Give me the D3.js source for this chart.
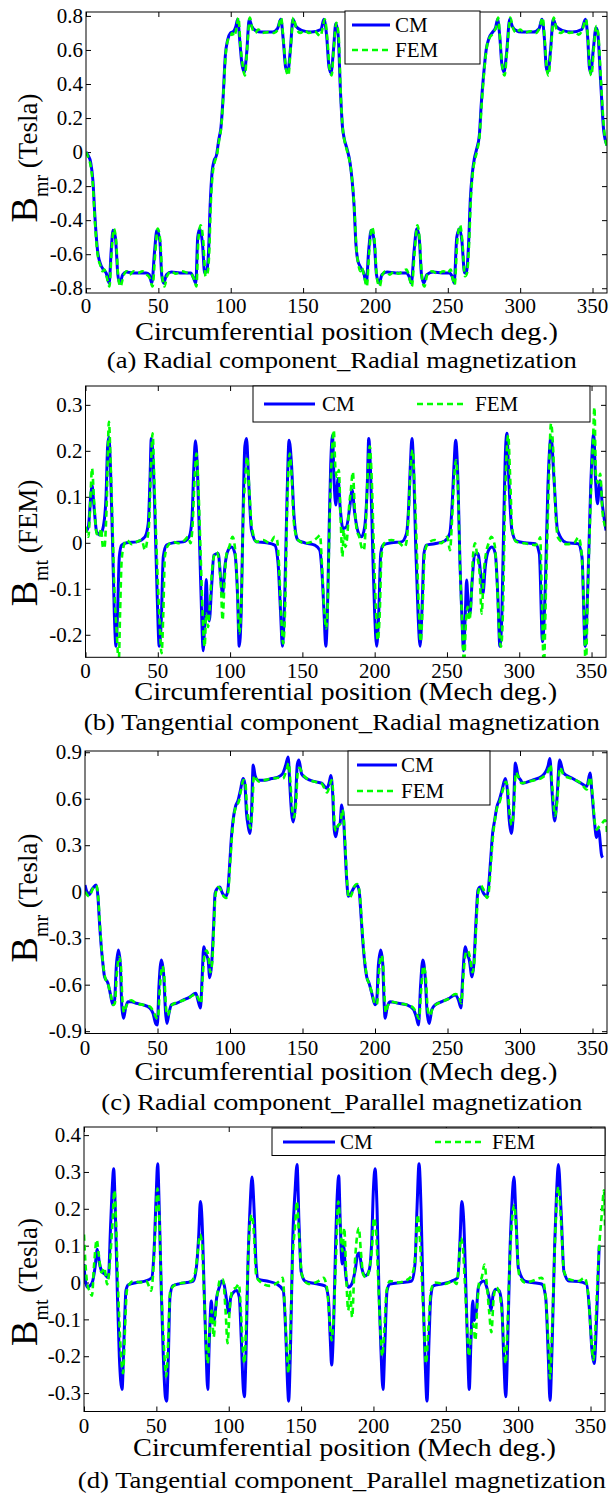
<!DOCTYPE html>
<html><head><meta charset="utf-8">
<script src="https://cdn.jsdelivr.net/npm/d3@7"></script>
<style>
body{margin:0;background:#fff;}
svg text{font-family:"Liberation Serif","Times New Roman",Times,serif;fill:#000;}
</style>
</head><body>
<svg id="chart" width="609" height="1494"></svg>
<script>
// ---------------- DATA ----------------
const xTicks = [0, 50, 100, 150, 200, 250, 300, 350];
const xTitle = "Circumferential position (Mech deg.)";
const seriesNames = ["CM", "FEM"];

const aYTicks = [-0.8, -0.6, -0.4, -0.2, 0, 0.2, 0.4, 0.6, 0.8];
const bYTicks = [-0.2, -0.1, 0, 0.1, 0.2, 0.3];
const cYTicks = [-0.9, -0.6, -0.3, 0, 0.3, 0.6, 0.9];
const dYTicks = [-0.3, -0.2, -0.1, 0, 0.1, 0.2, 0.3, 0.4];

const yLabels = [["B", "mr", " (Tesla)"], ["B", "mt", " (FEM)"], ["B", "mr", " (Tesla)"], ["B", "mt", " (Tesla)"]];
const captions = ["(a) Radial component_Radial magnetization", "(b) Tangential component_Radial magnetization",
  "(c) Radial component_Parallel magnetization", "(d) Tangential component_Parallel magnetization"];

const aCM = [[0,0.00],[1.5,-0.02],[3.2,-0.06],[4.8,-0.17],[6.1,-0.37],[8,-0.58],[10.1,-0.66],[12,-0.69],[13.9,-0.71],[16,-0.77],[17.4,-0.58],[18.7,-0.46],[20.3,-0.5],[22,-0.72],[23.3,-0.77],[25.4,-0.72],[28,-0.705],[32,-0.71],[38,-0.71],[41.5,-0.71],[43.7,-0.72],[45.5,-0.77],[47.4,-0.58],[49,-0.46],[51,-0.52],[52.3,-0.72],[53.6,-0.77],[55.7,-0.72],[59,-0.705],[65,-0.71],[72.4,-0.71],[74.3,-0.74],[75.9,-0.77],[77.2,-0.5],[78.6,-0.45],[80.5,-0.54],[82,-0.71],[83.4,-0.70],[84.7,-0.58],[85.8,-0.31],[87.1,-0.12],[88.5,-0.05],[90.1,-0.02],[91.7,0.07],[93.3,0.15],[94.8,0.33],[96.2,0.56],[97.9,0.66],[99.8,0.70],[102,0.71],[103.6,0.74],[104.8,0.78],[106.2,0.66],[107.7,0.52],[109.4,0.47],[111,0.58],[112.8,0.78],[114.5,0.74],[117,0.715],[121,0.705],[129,0.705],[132.3,0.725],[134.6,0.78],[136.3,0.66],[137.9,0.5],[139.4,0.47],[141.2,0.6],[143,0.78],[145,0.74],[149,0.715],[155.6,0.705],[162.3,0.72],[164.4,0.78],[166.3,0.68],[167.9,0.5],[169.3,0.466],[171,0.6],[172.6,0.755],[174.2,0.69],[175.8,0.36],[177.2,0.15],[178.4,0.08],[180.3,0.02],[182.4,-0.06],[183.8,-0.16],[185.2,-0.31],[186.5,-0.54],[187.9,-0.64],[190,-0.68],[191.9,-0.71],[193.7,-0.77],[195.3,-0.58],[197.1,-0.46],[199.1,-0.52],[200.7,-0.72],[202.6,-0.77],[204.5,-0.72],[208,-0.705],[214,-0.71],[221.3,-0.71],[223.2,-0.73],[224.8,-0.77],[226.7,-0.58],[228.6,-0.45],[230.2,-0.5],[231.8,-0.72],[233.4,-0.77],[235.5,-0.72],[240,-0.705],[246,-0.71],[250.9,-0.71],[253,-0.73],[254.4,-0.77],[256.2,-0.5],[258.1,-0.45],[259.7,-0.52],[261.6,-0.71],[263,-0.70],[264.3,-0.55],[265.6,-0.27],[267,-0.12],[268.3,-0.04],[270,0.02],[271.8,0.1],[273.1,0.28],[274.7,0.45],[276.5,0.6],[278.5,0.67],[281,0.705],[283,0.73],[284.4,0.78],[285.9,0.68],[287.3,0.52],[288.8,0.47],[290.6,0.58],[292.8,0.78],[294.5,0.74],[297,0.715],[301,0.705],[309,0.705],[313,0.725],[315.1,0.78],[316.8,0.66],[318,0.5],[319.2,0.47],[321,0.6],[322.8,0.78],[324.8,0.74],[329,0.715],[336,0.705],[342.5,0.72],[345.1,0.78],[346.6,0.68],[347.8,0.5],[348.8,0.465],[350.5,0.6],[352.4,0.73],[353.6,0.70],[355.5,0.43],[357.8,0.12],[360,0.04]];

const aFEM = [[0,0.0],[1.5,-0.03],[3.2,-0.08],[4.8,-0.2],[6.1,-0.4],[8,-0.6],[10.1,-0.67],[11.5,-0.7],[12.8,-0.69],[14.2,-0.73],[16.2,-0.79],[17.6,-0.6],[19.2,-0.45],[20.8,-0.52],[22.3,-0.74],[23.8,-0.79],[25.8,-0.73],[28,-0.70],[30,-0.72],[33,-0.70],[36,-0.71],[39,-0.70],[42,-0.72],[44,-0.74],[46,-0.79],[47.8,-0.6],[49.5,-0.45],[51.3,-0.52],[52.8,-0.74],[54.2,-0.79],[56,-0.73],[59,-0.70],[62,-0.715],[66,-0.70],[70,-0.71],[73,-0.72],[74.8,-0.75],[76.3,-0.79],[77.6,-0.52],[79.2,-0.43],[81,-0.52],[82.6,-0.73],[84,-0.71],[85.2,-0.58],[86.2,-0.31],[87.5,-0.13],[88.9,-0.06],[90.4,-0.02],[92,0.07],[93.6,0.16],[95,0.35],[96.5,0.57],[98.2,0.66],[99.5,0.67],[101,0.70],[102.4,0.68],[104,0.73],[105.3,0.79],[106.8,0.62],[108.4,0.5],[109.8,0.45],[111.3,0.6],[113.2,0.79],[114.8,0.73],[117,0.70],[119,0.72],[122,0.70],[126,0.705],[130,0.70],[132.5,0.72],[134.8,0.79],[136.6,0.64],[138.2,0.49],[139.8,0.45],[141.5,0.62],[143.3,0.79],[145.2,0.73],[148,0.70],[151,0.715],[154,0.70],[158,0.71],[160.5,0.69],[162,0.68],[163.3,0.72],[165,0.78],[166.8,0.66],[168.3,0.49],[169.7,0.45],[171.3,0.62],[173,0.76],[174.6,0.68],[176,0.34],[177.5,0.13],[178.8,0.06],[180.6,0.0],[182.7,-0.08],[184.1,-0.18],[185.5,-0.34],[186.8,-0.56],[188.2,-0.66],[189.5,-0.70],[190.6,-0.68],[192.2,-0.73],[194,-0.79],[195.6,-0.6],[197.5,-0.44],[199.4,-0.52],[201,-0.74],[202.9,-0.79],[204.8,-0.72],[207,-0.70],[210,-0.72],[213,-0.70],[216,-0.715],[219,-0.70],[221.5,-0.69],[223.5,-0.74],[225.1,-0.79],[227,-0.6],[229,-0.43],[230.6,-0.52],[232.2,-0.74],[233.8,-0.79],[235.8,-0.72],[239,-0.70],[243,-0.715],[247,-0.70],[250,-0.71],[252,-0.69],[253.3,-0.74],[254.7,-0.78],[256.6,-0.52],[258.5,-0.43],[260,-0.52],[261.9,-0.73],[263.3,-0.71],[264.6,-0.56],[265.9,-0.28],[267.3,-0.12],[268.6,-0.05],[270.3,0.01],[272,0.1],[273.4,0.28],[275,0.46],[276.8,0.61],[278.8,0.67],[280.6,0.69],[282,0.71],[283.3,0.73],[284.8,0.79],[286.3,0.64],[287.7,0.5],[289.2,0.45],[291,0.6],[293.2,0.79],[295,0.73],[297.5,0.70],[300,0.72],[303,0.70],[307,0.71],[311,0.70],[313.4,0.73],[315.5,0.79],[317.2,0.63],[318.4,0.49],[319.6,0.45],[321.4,0.62],[323.2,0.79],[325.2,0.72],[328,0.70],[331,0.715],[334,0.70],[338,0.705],[340.5,0.69],[343,0.72],[345.5,0.78],[347,0.65],[348.2,0.49],[349.2,0.45],[351,0.62],[352.6,0.74],[354,0.69],[355.8,0.42],[358,0.13],[360,0.03]];

const bCM = [[0.3,0.024],[2,0.035],[3.6,0.10],[4.5,0.125],[5.9,0.078],[7.7,0.024],[10,0.017],[12.3,0.035],[14.2,0.1],[15.3,0.21],[16.2,0.23],[17.4,0.15],[18.8,-0.009],[19.9,-0.15],[21.1,-0.225],[22.2,-0.15],[23.4,-0.03],[25,-0.005],[28.5,0],[35.4,0.002],[41.1,0.013],[43.4,0.042],[44.6,0.136],[45.5,0.227],[46.9,0.17],[48.2,0.04],[49.6,-0.117],[51,-0.225],[52.4,-0.17],[53.8,-0.03],[56.1,-0.005],[60.7,0],[67.6,0.002],[71.7,0.013],[73.6,0.05],[75,0.17],[76.1,0.222],[77.5,0.15],[79.1,-0.023],[80.3,-0.154],[81.4,-0.235],[82.6,-0.154],[83.5,-0.08],[84.4,-0.14],[85.6,-0.17],[87.2,-0.096],[88.8,-0.027],[91.8,-0.023],[93.4,-0.074],[94.8,-0.11],[96.4,-0.052],[98.7,-0.016],[101,-0.009],[103.3,-0.023],[105.2,-0.117],[106.3,-0.225],[107.7,-0.15],[109,0.064],[110.2,0.21],[111.4,0.227],[112.8,0.136],[114.8,0.028],[118.3,0.002],[125.2,0],[130.9,-0.005],[133.2,-0.045],[134.9,-0.15],[136.2,-0.225],[137.8,-0.117],[139.4,0.1],[140.8,0.223],[142.5,0.17],[144.1,0.064],[145.9,0.013],[147,0.006],[151.7,0],[158.6,-0.005],[162,-0.016],[163.6,-0.067],[165,-0.154],[166.2,-0.225],[167.3,-0.154],[168.5,0.028],[169.6,0.17],[170.8,0.234],[171.9,0.136],[173.1,0.082],[174.7,0.14],[176.1,0.078],[178.1,0.031],[180.5,0.035],[182.8,0.078],[184.4,0.115],[186.2,0.064],[188.5,0.024],[190.9,0.013],[193.1,0.035],[195,0.136],[195.9,0.227],[197.3,0.14],[198.7,-0.023],[200,-0.154],[201.4,-0.225],[202.8,-0.154],[204.2,-0.023],[205.8,-0.005],[211.6,0],[218.5,0.002],[222,0.02],[223.5,0.078],[224.7,0.17],[225.8,0.227],[227.2,0.136],[228.4,-0.009],[230,-0.154],[231.4,-0.225],[232.8,-0.14],[234.1,-0.023],[235.8,-0.005],[241.5,-0.002],[248.4,0.004],[251.9,0.02],[253.5,0.078],[254.9,0.17],[256,0.223],[257.6,0.136],[259,-0.045],[260.4,-0.168],[261.5,-0.235],[262.7,-0.154],[263.6,-0.081],[264.8,-0.14],[265.9,-0.154],[267.3,-0.089],[269.1,-0.027],[271.4,-0.023],[273.3,-0.067],[274.9,-0.11],[276.5,-0.052],[278.8,-0.016],[281.1,-0.009],[283.4,-0.023],[285.2,-0.117],[286.6,-0.225],[288,-0.154],[289.4,0.064],[290.6,0.209],[291.5,0.238],[292.8,0.136],[294.9,0.028],[297.9,0.004],[303.7,0],[311.2,-0.002],[313.9,-0.024],[316.1,-0.215],[318,-0.097],[319.8,0.12],[322,0.23],[324.1,0.135],[326.5,0.027],[332.7,0],[340.7,-0.002],[343.4,-0.031],[345.6,-0.225],[347.4,-0.097],[349.4,0.12],[351.5,0.237],[352.8,0.135],[354.1,0.085],[355.8,0.135],[357.4,0.085],[360,0.027]];

const bFEM = [[0,0.035],[2,0.013],[3.2,0.078],[4.5,0.162],[5.9,0.093],[7.7,0.02],[9.6,0.013],[10.8,0.031],[12,-0.009],[13,-0.012],[14.6,0.078],[16.2,0.263],[17.4,0.17],[18.8,0.028],[19.9,-0.096],[21.5,-0.19],[23,-0.26],[23.9,-0.154],[25,-0.038],[26.6,-0.005],[28.5,0.006],[32,-0.003],[35.4,0.002],[38.9,0.006],[41.1,-0.016],[42.7,0.006],[44.1,0.049],[45.3,0.17],[46.4,0.238],[47.6,0.136],[49.1,-0.009],[51,-0.154],[52.6,-0.24],[53.8,-0.154],[54.9,-0.03],[57.2,-0.005],[60.7,0.002],[64.1,-0.001],[68.7,0.006],[71,0.013],[72.6,-0.001],[74,0.035],[75.6,0.15],[76.8,0.194],[77.9,0.136],[79.6,-0.023],[81,-0.154],[82.4,-0.226],[83.5,-0.154],[84.7,-0.183],[85.8,-0.146],[87,-0.081],[88.8,-0.03],[90.7,-0.02],[92.3,-0.038],[93.7,-0.096],[94.8,-0.168],[96.2,-0.081],[97.6,-0.023],[99.4,-0.009],[101.7,0.013],[103.3,-0.009],[105.2,-0.110],[106.3,-0.197],[107.7,-0.139],[109,0.049],[110.4,0.136],[111.8,0.187],[113.2,0.121],[115,0.035],[118.3,0.002],[122.9,0.006],[127.5,-0.001],[130.9,0.013],[132.5,0.006],[133.9,-0.052],[135.3,-0.154],[136.7,-0.219],[138.1,-0.139],[139.5,0.078],[141.3,0.194],[142.6,0.143],[144,0.049],[145.9,0.013],[147,0.006],[151.7,-0.001],[156.3,0.002],[160.9,0.013],[162.2,0.017],[163.6,-0.052],[165,-0.139],[166.4,-0.186],[167.5,-0.139],[168.7,0.028],[170.1,0.17],[171.7,0.245],[172.9,0.158],[174,0.143],[175.2,0.158],[176.5,0.049],[177.7,-0.03],[178.6,0.028],[179.8,-0.009],[181.2,0.02],[182.3,0.078],[183.5,0.114],[184.9,0.154],[186.2,0.078],[187.6,0.028],[189.3,0.013],[190.9,-0.009],[192.5,-0.016],[193.8,0.035],[195.5,0.17],[196.6,0.21],[198,0.136],[199.4,-0.009],[200.8,-0.139],[202.1,-0.212],[203.5,-0.154],[204.7,-0.03],[206.5,-0.001],[211.6,0.006],[216.2,0.002],[220.8,-0.009],[222.2,0.006],[223.5,0.064],[224.9,0.165],[226.3,0.202],[227.7,0.114],[229.1,-0.009],[230.5,-0.139],[231.8,-0.215],[233.2,-0.139],[234.6,-0.023],[236.9,-0.001],[241.5,0.006],[246.1,-0.001],[250.2,0.013],[252.1,-0.016],[253.5,0.049],[254.9,0.136],[256.3,0.18],[257.6,0.121],[259,-0.045],[260.4,-0.168],[261.8,-0.26],[263.2,-0.168],[264.3,-0.139],[265.5,-0.168],[266.9,-0.117],[268,-0.03],[269.4,-0.001],[271,-0.03],[272.6,-0.067],[274,-0.154],[275.4,-0.067],[277,-0.023],[278.8,-0.001],[280.7,0.013],[283,-0.005],[284.8,-0.096],[286.2,-0.197],[287.4,-0.226],[288.8,-0.139],[290.1,0.078],[291.5,0.209],[292.4,0.234],[293.6,0.151],[295.2,0.028],[297.9,0.002],[303.7,-0.001],[311,-0.005],[313,0.0],[314.5,0.012],[315.5,-0.1],[317,-0.27],[318.5,-0.1],[320,0.08],[322,0.26],[323.5,0.2],[325,0.07],[327,0.01],[333,-0.003],[338,0.0],[341,0.012],[343,-0.02],[344.5,-0.12],[346,-0.27],[347.5,-0.1],[349.5,0.1],[351,0.22],[352,0.295],[353,0.15],[354.5,0.13],[356,0.15],[357.5,0.07],[359,0.04],[360,0.03]];

const cCM = [[0,0.043],[1.3,0],[3.1,-0.02],[4.5,0.01],[5.9,0.028],[7.7,0.043],[8.9,-0.03],[10,-0.2],[11.2,-0.355],[12.3,-0.46],[13.5,-0.55],[15.8,-0.59],[17.4,-0.656],[19.2,-0.73],[20.4,-0.70],[21.6,-0.48],[23.1,-0.376],[24.3,-0.46],[25.4,-0.74],[26.6,-0.817],[28,-0.75],[29.6,-0.71],[31.9,-0.71],[35.4,-0.72],[40,-0.73],[44.6,-0.75],[46.9,-0.785],[48.7,-0.85],[49.9,-0.86],[51,-0.61],[52.7,-0.44],[54.2,-0.53],[55.6,-0.785],[56.5,-0.85],[57.9,-0.785],[59.6,-0.73],[63,-0.72],[67.6,-0.70],[72.2,-0.68],[76.4,-0.656],[77.9,-0.70],[79.6,-0.75],[80.7,-0.57],[81.9,-0.355],[83.3,-0.40],[84.9,-0.44],[86,-0.555],[87.4,-0.46],[88.8,-0.2],[89.7,-0.01],[91.1,0.02],[92.9,0.03],[94.8,-0.01],[97.1,-0.03],[98.5,0.01],[99.8,0.18],[101,0.355],[102.1,0.46],[103.8,0.55],[105.6,0.59],[107.2,0.656],[109,0.73],[110.2,0.70],[111.4,0.505],[112.6,0.42],[113.7,0.376],[114.8,0.505],[116,0.817],[117.3,0.75],[119.4,0.72],[124,0.72],[128.7,0.73],[133.2,0.74],[136.2,0.76],[138.5,0.82],[140.1,0.87],[141.3,0.68],[142.5,0.505],[143.6,0.45],[145,0.55],[146.4,0.82],[147.5,0.85],[149.4,0.76],[152.8,0.73],[158.6,0.71],[163.2,0.70],[166.7,0.667],[168.3,0.70],[169.6,0.75],[170.8,0.634],[171.9,0.40],[172.9,0.355],[174.3,0.42],[175.9,0.44],[177,0.56],[178.4,0.46],[179.3,0.29],[180.5,0.075],[181.6,-0.03],[183.5,-0.01],[185.1,0.02],[187.4,0.043],[189,0.01],[190.4,-0.16],[191.5,-0.31],[192.7,-0.44],[194.3,-0.55],[195.9,-0.59],[197.8,-0.656],[200,-0.73],[201.2,-0.70],[202.3,-0.48],[204,-0.376],[205.3,-0.46],[206.3,-0.72],[207,-0.817],[208.3,-0.75],[210.4,-0.71],[216.1,-0.72],[222,-0.73],[226.5,-0.76],[228.4,-0.806],[230,-0.86],[231.4,-0.61],[233,-0.44],[234.6,-0.55],[236,-0.785],[237.4,-0.85],[239.2,-0.76],[241.5,-0.73],[246.1,-0.71],[250.7,-0.69],[255.3,-0.667],[257.6,-0.70],[259.3,-0.75],[260.4,-0.57],[262.2,-0.355],[263.6,-0.40],[265,-0.44],[266.9,-0.55],[268.2,-0.46],[269.6,-0.2],[271,0.01],[272.6,0.03],[274.9,-0.01],[277.2,-0.03],[278.3,0.03],[279.7,0.2],[281.1,0.376],[282.5,0.46],[284.1,0.55],[285.7,0.59],[287.6,0.656],[289.9,0.73],[291.3,0.656],[292.6,0.46],[294,0.376],[295.4,0.505],[296.8,0.83],[298.6,0.75],[300.5,0.72],[301.9,0.70],[308.6,0.72],[315.2,0.745],[319.3,0.81],[320.6,0.86],[322,0.66],[323.9,0.457],[325.5,0.6],[327.3,0.85],[330,0.766],[335.4,0.735],[342.1,0.70],[346.1,0.68],[348.3,0.766],[349.6,0.64],[351.5,0.436],[352.8,0.35],[354.2,0.40],[356.3,0.234],[357,0.22]];

const cFEM = [[0,0.0],[1.5,-0.02],[3,-0.03],[4.5,0.0],[6,0.03],[7.7,0.04],[9,-0.02],[10.2,-0.2],[11.4,-0.36],[12.5,-0.47],[13.8,-0.55],[16,-0.60],[17.6,-0.66],[19.4,-0.73],[20.6,-0.72],[22,-0.52],[23.5,-0.42],[24.7,-0.47],[25.8,-0.70],[27,-0.78],[28.4,-0.74],[30,-0.71],[32,-0.70],[35,-0.72],[40,-0.73],[44.6,-0.74],[47,-0.77],[49,-0.81],[50.3,-0.82],[51.5,-0.64],[53.2,-0.48],[54.6,-0.54],[56,-0.76],[57,-0.80],[58.3,-0.77],[60,-0.73],[63,-0.715],[68,-0.70],[72.5,-0.68],[76.5,-0.66],[78.2,-0.69],[80,-0.72],[81.2,-0.55],[82.4,-0.41],[83.8,-0.38],[85.2,-0.42],[86.4,-0.52],[87.8,-0.45],[89,-0.2],[90,-0.02],[91.5,0.03],[93.2,0.02],[95,-0.02],[97.3,-0.04],[98.8,0.0],[100,0.17],[101.3,0.35],[102.5,0.47],[104,0.55],[106,0.58],[107.5,0.65],[109.3,0.72],[110.5,0.71],[111.8,0.53],[113,0.45],[114.2,0.41],[115.3,0.52],[116.5,0.75],[118,0.73],[120,0.71],[124,0.72],[129,0.73],[133.5,0.735],[136.5,0.73],[138.8,0.78],[140.5,0.83],[141.7,0.70],[142.9,0.53],[144,0.48],[145.4,0.55],[146.8,0.78],[148,0.80],[150,0.76],[153,0.73],[158.5,0.71],[163,0.70],[167,0.64],[168.6,0.68],[170,0.72],[171.2,0.63],[172.2,0.42],[173.3,0.39],[174.7,0.43],[176.2,0.44],[177.4,0.53],[178.7,0.44],[179.6,0.28],[180.8,0.06],[182,-0.04],[183.8,-0.02],[185.4,0.03],[187.7,0.05],[189.3,0.0],[190.7,-0.17],[191.8,-0.32],[193,-0.45],[194.6,-0.56],[196.2,-0.60],[198.1,-0.66],[200.3,-0.73],[201.5,-0.72],[202.7,-0.52],[204.4,-0.41],[205.6,-0.47],[206.7,-0.70],[207.4,-0.78],[208.7,-0.74],[211,-0.71],[216,-0.72],[222,-0.73],[226.5,-0.75],[228.8,-0.79],[230.4,-0.82],[231.8,-0.64],[233.4,-0.48],[235,-0.55],[236.4,-0.76],[237.8,-0.80],[239.5,-0.76],[241.8,-0.73],[246,-0.71],[251,-0.69],[255.5,-0.66],[257.9,-0.68],[259.6,-0.72],[260.8,-0.56],[262.5,-0.40],[264,-0.38],[265.4,-0.42],[267.2,-0.52],[268.5,-0.45],[269.9,-0.2],[271.3,0.0],[272.9,0.04],[275,0.01],[277.4,-0.04],[278.6,0.01],[280,0.19],[281.4,0.36],[282.8,0.47],[284.4,0.55],[286,0.58],[288,0.65],[290.2,0.71],[291.6,0.66],[293,0.49],[294.3,0.43],[295.7,0.52],[297.1,0.77],[298.9,0.74],[301,0.70],[305,0.71],[310,0.72],[315,0.735],[319.5,0.78],[321,0.82],[322.4,0.66],[324.2,0.49],[325.8,0.6],[327.5,0.80],[330.3,0.75],[335.5,0.73],[342,0.70],[346,0.66],[348.5,0.74],[349.9,0.64],[351.8,0.43],[353,0.40],[354.5,0.42],[356.5,0.44],[358.5,0.46],[359.5,0.45],[360,0.36]];

const dCM = [[0,0.05],[0.7,0.013],[2.3,-0.013],[4.1,-0.009],[6,0.004],[7.6,0.04],[9.2,0.09],[10.6,0.054],[12.2,0.031],[14.5,0.022],[16.8,0.013],[18.4,0.157],[19.6,0.264],[20.5,0.309],[21.6,0.2],[23,-0.022],[24.4,-0.2],[26.3,-0.29],[27.6,-0.157],[29,-0.022],[30.6,-0.006],[36.4,0],[42.2,0.004],[46.8,0.013],[48.4,0.085],[49.8,0.228],[50.9,0.322],[52,0.2],[53.4,-0.022],[54.8,-0.2],[56.2,-0.31],[57.1,-0.322],[58.3,-0.2],[59.4,-0.04],[61.3,-0.009],[66.3,-0.003],[71,0],[75.5,0.004],[77.9,0.05],[79.3,0.13],[80.4,0.22],[81.5,0.175],[82.9,-0.004],[84.3,-0.18],[85.5,-0.29],[86.6,-0.157],[88,-0.05],[89.1,-0.11],[90.3,-0.094],[91.7,-0.04],[93.5,-0.013],[95.2,0.004],[96.7,-0.004],[98.6,-0.05],[100,-0.085],[101.4,-0.04],[103.2,-0.027],[105.5,-0.022],[107.3,-0.04],[108.7,-0.157],[110.1,-0.29],[110.8,-0.31],[111.9,-0.2],[113.1,0.022],[114.7,0.2],[116.1,0.286],[117.5,0.2],[118.9,0.05],[120.4,0.009],[126.3,0.004],[133.2,-0.004],[137.7,-0.022],[139.6,-0.157],[140.8,-0.29],[141.4,-0.322],[142.8,-0.157],[144.2,0.112],[145.8,0.246],[147.2,0.32],[148.6,0.157],[150,0.031],[152.7,0.004],[159.6,-0.003],[166.5,-0.009],[168.8,-0.04],[170.2,-0.157],[171.1,-0.224],[172.5,-0.112],[173.9,0.112],[175.1,0.246],[176,0.29],[177.1,0.157],[178.3,0.05],[179.4,0.1],[180.8,0.022],[182.6,-0.013],[185,-0.004],[187.3,0.031],[189.1,0.076],[190.2,0.08],[191.9,0.04],[194.2,0.018],[196.9,0.031],[198.8,0.112],[199.9,0.246],[201.1,0.309],[202.5,0.2],[203.8,-0.022],[205.2,-0.184],[206.6,-0.29],[208,-0.157],[209.4,-0.022],[211.4,-0.004],[219.5,0],[226.4,0.004],[228.7,0.05],[230.1,0.2],[231.5,0.322],[232.9,0.2],[234.2,-0.022],[235.6,-0.2],[237,-0.322],[238.4,-0.157],[239.6,-0.04],[241.4,-0.009],[247.2,-0.004],[254.1,0.004],[258.2,0.013],[259.8,0.112],[261,0.22],[262.4,0.166],[263.8,-0.004],[265.1,-0.184],[266.2,-0.29],[267.4,-0.157],[268.6,-0.05],[269.7,-0.103],[271.1,-0.076],[272.5,-0.013],[274.3,0],[276.2,0.004],[278.3,-0.013],[279.9,-0.04],[281.2,-0.076],[282.8,-0.031],[284.7,-0.018],[286.8,-0.022],[288.6,-0.058],[290,-0.2],[291.4,-0.31],[292.8,-0.157],[294.2,0.067],[295.5,0.2],[297.1,0.286],[298.5,0.175],[300.1,0.04],[304.7,0.004],[309.6,0],[316.3,-0.004],[319,-0.04],[320.9,-0.21],[322,-0.32],[323.5,-0.165],[325.2,0.1],[326.5,0.24],[327.8,0.32],[329.7,0.19],[331.6,0.03],[335.1,0.004],[341.8,0.003],[347.2,-0.004],[349.3,-0.076],[350.9,-0.18],[352.5,-0.22],[354.4,-0.076],[356,0.1]];

const dFEM = [[0,0.13],[1.2,0.04],[2.3,-0.005],[3.8,-0.022],[5.5,-0.036],[7,0.05],[8.8,0.116],[10.2,0.076],[12,0.027],[14,0.04],[16,-0.005],[17.8,0.05],[19.6,0.157],[21,0.25],[22.2,0.157],[23.6,-0.022],[25,-0.157],[27,-0.246],[28.3,-0.13],[29.6,-0.022],[31.5,-0.004],[34,0.004],[38.6,0],[43,0.004],[45.2,-0.013],[46.4,-0.022],[48,0.04],[49.4,0.157],[50.8,0.255],[52.2,0.157],[53.5,-0.022],[55,-0.157],[56.8,-0.255],[58.2,-0.157],[59.6,-0.022],[64,-0.004],[69.7,0],[74.3,0.004],[77,0.031],[78.6,0.085],[80.2,0.13],[81.4,0.112],[82.7,-0.004],[84,-0.13],[85.5,-0.22],[86.8,-0.13],[88.2,-0.076],[89.6,-0.148],[91,-0.076],[92.5,-0.022],[94.2,0.009],[96,0.009],[97.8,-0.076],[99.2,-0.165],[100.6,-0.076],[102.4,-0.022],[105.2,-0.013],[107,-0.004],[108.4,-0.076],[109.8,-0.184],[110.9,-0.22],[112,-0.112],[113.4,0.067],[114.6,0.157],[115.9,0.184],[117.3,0.14],[118.9,0.022],[121.2,0.004],[128.1,-0.009],[135,0.004],[137.3,0.013],[138.7,-0.067],[140.1,-0.184],[141.3,-0.246],[142.6,-0.13],[144.2,0.067],[145.9,0.157],[147,0.22],[148.6,0.13],[150.5,0.022],[155,-0.004],[162,0.004],[165.5,0.013],[167.8,-0.013],[169.6,-0.094],[171.1,-0.157],[172.7,-0.076],[174.3,0.085],[175.7,0.22],[177.1,0.157],[178.5,0.085],[179.8,0.148],[181.4,-0.004],[182.6,-0.076],[183.7,-0.022],[185.3,-0.094],[186.7,0.022],[188.3,0.112],[189.9,0.148],[191.3,0.085],[192.9,0.022],[195.2,0.013],[196.9,0.031],[198.8,0.085],[200.4,0.175],[201.8,0.14],[203.4,-0.004],[204.8,-0.13],[206.1,-0.2],[207.5,-0.13],[209.1,-0.022],[211.4,0.004],[217.2,0],[224.1,0.009],[227.5,0.031],[229.1,0.085],[230.5,0.184],[231.9,0.13],[233.3,0.022],[234.9,-0.112],[236.3,-0.22],[237.9,-0.13],[239.7,-0.022],[242.5,0],[249.4,-0.004],[255.2,0.004],[257.4,-0.004],[259,0.049],[260.4,0.121],[261.8,0.094],[263.2,-0.004],[264.6,-0.112],[266,-0.2],[267.4,-0.139],[269,-0.112],[270.4,-0.157],[271.8,-0.058],[273.2,0.004],[274.8,0.013],[276.7,0.049],[278.3,-0.004],[279.9,-0.076],[281.5,-0.135],[283.1,-0.04],[284.9,-0.013],[287.2,-0.031],[289,-0.094],[290.4,-0.184],[291.3,-0.22],[292.7,-0.112],[294.3,0.067],[295.9,0.175],[297.3,0.21],[298.7,0.139],[300.6,0.022],[304.7,0],[309.6,0.004],[316.3,0.013],[319,-0.04],[320.9,-0.165],[322,-0.26],[323.5,-0.12],[325.2,0.085],[326.8,0.23],[327.8,0.26],[329.7,0.16],[331.6,0.031],[335.1,0.009],[341.8,0.004],[345.9,0.013],[348.6,-0.04],[350.4,-0.147],[352,-0.21],[353.9,-0.076],[355.8,0.085],[357.9,0.19],[359.3,0.25],[360,0.155]];

// ---------------- LAYOUT ----------------
const layout = [
  {cm:aCM, fem:aFEM, yt:aYTicks, yd:[-0.828,0.823], l:86, r:607, t:12, b:293, tickB:313, titleB:340, capB:368, capW:470, ylC:158,
   lg:{x:345,y:11,w:135,h:53, items:[{x1:352,x2:390,y:25,tx:395},{x1:352,x2:390,y:50,tx:395}]}},
  {cm:bCM, fem:bFEM, yt:bYTicks, yd:[-0.249,0.341], l:85.5, r:606, t:386, b:657.3, tickB:678, titleB:700, capB:730, capW:516, ylC:543,
   lg:{x:253,y:386,w:337,h:36, items:[{x1:264,x2:315,y:404,tx:322},{x1:417,x2:467,y:404,tx:475}]}},
  {cm:cCM, fem:cFEM, yt:cYTicks, yd:[-0.915,0.908], l:85, r:607, t:751, b:1033.5, tickB:1055, titleB:1080, capB:1110, capW:481, ylC:898,
   lg:{x:348,y:751,w:142,h:54, items:[{x1:357,x2:397,y:765,tx:401},{x1:357,x2:397,y:791,tx:401}]}},
  {cm:dCM, fem:dFEM, yt:dYTicks, yd:[-0.35,0.422], l:84, r:605, t:1127, b:1411.5, tickB:1432.5, titleB:1456, capB:1488, capW:528, ylC:1282,
   lg:{x:272,y:1128,w:333,h:27.5, items:[{x1:283,x2:335,y:1142,tx:340},{x1:435,x2:483,y:1142,tx:492}]}}
];

const svg = d3.select("#chart");
const FONT = "'Liberation Serif','Times New Roman',Times,serif";
const blue = "#0000ff", green = "#00ff00";
const fmt = v => (Math.abs(v) < 1e-9 ? "0" : String(+v.toFixed(2)));

layout.forEach((p, i) => {
  const x = d3.scaleLinear().domain([0, 360]).range([p.l, p.r]);
  const y = d3.scaleLinear().domain(p.yd).range([p.b, p.t]);
  const g = svg.append("g").attr("font-family", FONT);
  const clipId = "clip" + i;
  svg.append("clipPath").attr("id", clipId).append("rect")
    .attr("x", p.l).attr("y", p.t).attr("width", p.r - p.l).attr("height", p.b - p.t);

  // axes (inward ticks, Matlab box)
  const axB = d3.axisBottom(x).tickValues(xTicks).tickSize(-5).tickFormat("");
  const axT = d3.axisTop(x).tickValues(xTicks).tickSize(-5).tickFormat("");
  const axL = d3.axisLeft(y).tickValues(p.yt).tickSize(-5).tickFormat("");
  const axR = d3.axisRight(y).tickValues(p.yt).tickSize(-5).tickFormat("");
  [[axB, `translate(0,${p.b})`], [axT, `translate(0,${p.t})`], [axL, `translate(${p.l},0)`], [axR, `translate(${p.r},0)`]]
    .forEach(([ax, tr]) => {
      const a = g.append("g").attr("transform", tr).call(ax);
      a.select(".domain").remove();
      a.selectAll("line").attr("stroke", "#000").attr("stroke-width", 1);
    });

  // tick labels
  g.selectAll(".xl").data(xTicks).enter().append("text")
    .attr("x", d => x(d)).attr("y", p.tickB).attr("text-anchor", "middle")
    .attr("font-size", 21).attr("font-family", FONT).text(d => d);
  g.selectAll(".yl").data(p.yt).enter().append("text")
    .attr("x", p.l - 3).attr("y", d => y(d)).attr("dy", "0.34em").attr("text-anchor", "end")
    .attr("font-size", 21).attr("font-family", FONT).text(fmt);

  // lines
  const line = d3.line().x(d => x(d[0])).y(d => y(d[1])).curve(d3.curveMonotoneX);
  const lg = g.append("g").attr("clip-path", `url(#${clipId})`);
  lg.append("path").datum(p.cm).attr("d", line).attr("fill", "none")
    .attr("stroke", blue).attr("stroke-width", 3).attr("stroke-linejoin", "round");
  lg.append("path").datum(p.fem).attr("d", line).attr("fill", "none")
    .attr("stroke", green).attr("stroke-width", 2.6).attr("stroke-dasharray", "6,4");

  // frame
  g.append("rect").attr("x", p.l).attr("y", p.t).attr("width", p.r - p.l).attr("height", p.b - p.t)
    .attr("fill", "none").attr("stroke", "#000").attr("stroke-width", 1);

  // legend
  const L = p.lg;
  g.append("rect").attr("x", L.x).attr("y", L.y).attr("width", L.w).attr("height", L.h)
    .attr("fill", "#fff").attr("stroke", "#000").attr("stroke-width", 1);
  L.items.forEach((it, k) => {
    g.append("line").attr("x1", it.x1).attr("x2", it.x2).attr("y1", it.y).attr("y2", it.y)
      .attr("stroke", k === 0 ? blue : green).attr("stroke-width", k === 0 ? 3 : 2.6)
      .attr("stroke-dasharray", k === 0 ? null : "6,4");
    g.append("text").attr("x", it.tx).attr("y", it.y + 7).attr("font-size", 21).attr("font-family", FONT).text(seriesNames[k]);
  });

  // x title
  g.append("text").attr("x", (p.l + p.r) / 2).attr("y", p.titleB).attr("text-anchor", "middle")
    .attr("font-size", 25.5).attr("font-family", FONT).attr("textLength", 423).attr("lengthAdjust", "spacingAndGlyphs").text(xTitle);
  // caption
  g.append("text").attr("x", 341.8).attr("y", p.capB).attr("text-anchor", "middle")
    .attr("font-size", 24).attr("font-family", FONT).attr("textLength", p.capW).attr("lengthAdjust", "spacingAndGlyphs").text(captions[i]);

  // y label
  const yl = g.append("text").attr("transform", `translate(37,${p.ylC}) rotate(-90)`).attr("text-anchor", "middle").attr("font-family", FONT);
  const lab = yLabels[i];
  yl.append("tspan").attr("font-size", 38).text(lab[0]);
  yl.append("tspan").attr("font-size", 20).attr("dy", 11).text(lab[1]);
  yl.append("tspan").attr("font-size", 27).attr("dy", -11).text(lab[2]);
});
</script>
</body></html>
